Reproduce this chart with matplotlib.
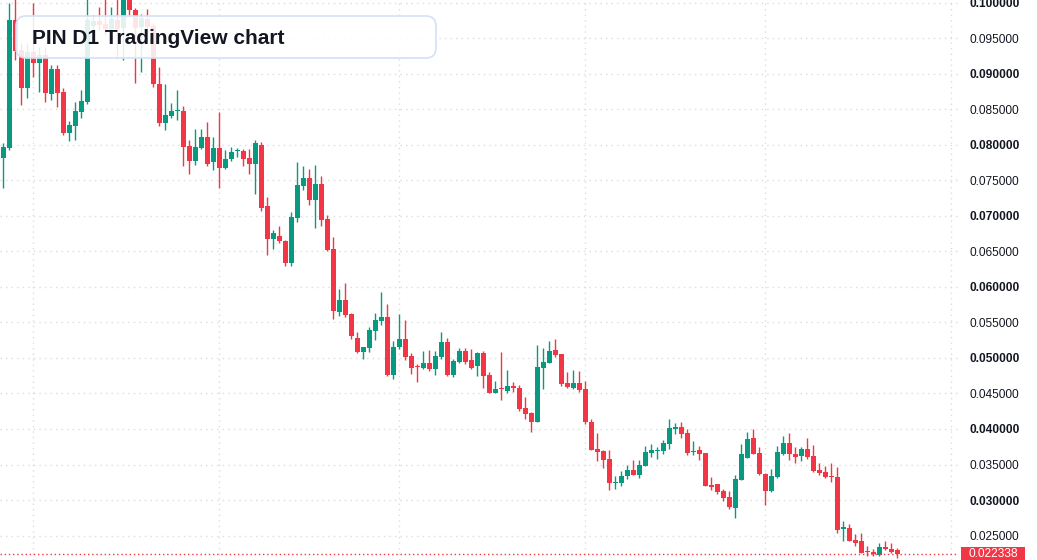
"""PIN D1 candlestick chart, TradingView style."""

import numpy as np
import matplotlib.pyplot as plt
from matplotlib.patches import FancyBboxPatch, Rectangle
from matplotlib.transforms import blended_transform_factory

plt.rcParams["font.family"] = ["Liberation Sans", "DejaVu Sans"]

UP = "#089981"
DOWN = "#F23645"
GRID = "#d9dce2"
TEXT = "#131722"

# ---- daily OHLC ----
opens = [
    0.07812, 0.07962, 0.09760, 0.09338, 0.08807, 0.09314, 0.09150, 0.09267, 0.08714, 0.09070,
    0.08750, 0.08173, 0.08267, 0.08469, 0.08610, 0.09676, 0.09746, 0.09704, 0.09629, 0.09760,
    0.09643, 0.10056, 0.09901, 0.09662, 0.09774, 0.09676, 0.08859, 0.08305, 0.08412, 0.08483,
    0.08479, 0.07986, 0.07779, 0.07957, 0.08112, 0.07760, 0.07957, 0.07680, 0.07802, 0.07911,
    0.07915, 0.07817, 0.07736, 0.08000, 0.07140, 0.06680, 0.06718, 0.06648, 0.06342, 0.06976,
    0.07426, 0.07535, 0.07229, 0.07450, 0.06957, 0.06535, 0.05652, 0.05816, 0.05624, 0.05281,
    0.05088, 0.05145, 0.05384, 0.05525, 0.05577, 0.04764, 0.05159, 0.05267, 0.05028, 0.04877,
    0.04859, 0.04929, 0.04849, 0.05018, 0.05225, 0.04760, 0.04943, 0.05098, 0.04971, 0.04887,
    0.05070, 0.04760, 0.04511, 0.04567, 0.04539, 0.04605, 0.04577, 0.04295, 0.04225, 0.04102,
    0.04859, 0.04929, 0.05112, 0.05056, 0.04647, 0.04577, 0.04647, 0.04563, 0.04098, 0.03718,
    0.03690, 0.03577, 0.03245, 0.03239, 0.03338, 0.03422, 0.03352, 0.03478, 0.03661, 0.03695,
    0.03690, 0.03788, 0.04000, 0.04028, 0.03943, 0.03681, 0.03704, 0.03661, 0.03211, 0.03225,
    0.03126, 0.03042, 0.02887, 0.03281, 0.03591, 0.03873, 0.03661, 0.03366, 0.03126, 0.03323,
    0.03647, 0.03802, 0.03647, 0.03619, 0.03718, 0.03619, 0.03422, 0.03394, 0.03328, 0.03323,
    0.02591, 0.02605, 0.02436, 0.02422, 0.02271, 0.02267, 0.02225, 0.02338, 0.02309, 0.02295,
]
highs = [
    0.08032, 0.09996, 0.10084, 0.09432, 0.09436, 0.09996, 0.09384, 0.09384, 0.09126, 0.09126,
    0.08798, 0.08338, 0.08610, 0.08774, 0.10084, 0.09831, 0.09948, 0.10070, 0.09939, 0.10070,
    0.10127, 0.10098, 0.09929, 0.09845, 0.09915, 0.09718, 0.09103, 0.08859, 0.08587, 0.08774,
    0.08549, 0.08070, 0.08225, 0.08225, 0.08328, 0.08112, 0.08464, 0.07929, 0.07972, 0.07957,
    0.07943, 0.07943, 0.08070, 0.08042, 0.07267, 0.06802, 0.06859, 0.06662, 0.07056, 0.07756,
    0.07704, 0.07662, 0.07718, 0.07563, 0.07014, 0.06704, 0.05971, 0.06056, 0.05638, 0.05366,
    0.05155, 0.05436, 0.05633, 0.05929, 0.05760, 0.05239, 0.05619, 0.05535, 0.05070, 0.04915,
    0.05098, 0.05112, 0.05098, 0.05366, 0.05281, 0.04985, 0.05140, 0.05140, 0.05126, 0.05084,
    0.05098, 0.04802, 0.04676, 0.05084, 0.04831, 0.04662, 0.04619, 0.04450, 0.04243, 0.05183,
    0.05140, 0.05239, 0.05267, 0.05056, 0.04802, 0.04831, 0.04816, 0.04676, 0.04140, 0.03943,
    0.03704, 0.03704, 0.03338, 0.03408, 0.03492, 0.03563, 0.03563, 0.03760, 0.03788, 0.03746,
    0.03845, 0.04140, 0.04084, 0.04098, 0.04000, 0.03831, 0.03760, 0.03661, 0.03323, 0.03225,
    0.03154, 0.03126, 0.03352, 0.03788, 0.03957, 0.04000, 0.03746, 0.03380, 0.03436, 0.03760,
    0.03901, 0.03943, 0.03746, 0.03746, 0.03873, 0.03774, 0.03521, 0.03478, 0.03521, 0.03464,
    0.02704, 0.02661, 0.02521, 0.02535, 0.02352, 0.02309, 0.02394, 0.02422, 0.02394, 0.02323,
]
lows = [
    0.07390, 0.07929, 0.09197, 0.08563, 0.08662, 0.08962, 0.08750, 0.08610, 0.08634, 0.08539,
    0.08141, 0.08060, 0.08070, 0.08376, 0.08577, 0.09549, 0.09619, 0.09549, 0.09549, 0.09221,
    0.09197, 0.09831, 0.08873, 0.09028, 0.09479, 0.08821, 0.08267, 0.08211, 0.08376, 0.08352,
    0.07704, 0.07591, 0.07718, 0.07943, 0.07704, 0.07648, 0.07398, 0.07662, 0.07779, 0.07835,
    0.07708, 0.07595, 0.07314, 0.07074, 0.06455, 0.06539, 0.06624, 0.06300, 0.06300, 0.06919,
    0.07370, 0.07159, 0.06835, 0.06863, 0.06511, 0.05553, 0.05595, 0.05581, 0.05271, 0.05074,
    0.04990, 0.05088, 0.05257, 0.05469, 0.04750, 0.04708, 0.05131, 0.04976, 0.04778, 0.04666,
    0.04849, 0.04821, 0.04764, 0.04990, 0.04753, 0.04736, 0.04929, 0.04915, 0.04845, 0.04746,
    0.04577, 0.04511, 0.04500, 0.04408, 0.04511, 0.04525, 0.04257, 0.04145, 0.03961, 0.04102,
    0.04567, 0.04929, 0.05014, 0.04605, 0.04577, 0.04563, 0.04521, 0.04070, 0.03704, 0.03549,
    0.03450, 0.03140, 0.03154, 0.03197, 0.03295, 0.03352, 0.03314, 0.03478, 0.03605, 0.03577,
    0.03647, 0.03718, 0.03929, 0.03873, 0.03633, 0.03633, 0.03563, 0.03197, 0.03140, 0.03084,
    0.02985, 0.02873, 0.02746, 0.03281, 0.03591, 0.03647, 0.03352, 0.02929, 0.03112, 0.03309,
    0.03633, 0.03563, 0.03521, 0.03549, 0.03577, 0.03394, 0.03352, 0.03309, 0.03253, 0.02535,
    0.02422, 0.02422, 0.02352, 0.02253, 0.02211, 0.02211, 0.02211, 0.02295, 0.02253, 0.02190,
]
closes = [
    0.07976, 0.09760, 0.09328, 0.08807, 0.09314, 0.09150, 0.09267, 0.08728, 0.09070, 0.08736,
    0.08173, 0.08281, 0.08479, 0.08619, 0.09760, 0.09750, 0.09686, 0.09629, 0.09774, 0.09629,
    0.10070, 0.09901, 0.09648, 0.09788, 0.09662, 0.08855, 0.08305, 0.08422, 0.08479, 0.08493,
    0.07976, 0.07779, 0.07972, 0.08112, 0.07732, 0.07957, 0.07680, 0.07802, 0.07901, 0.07919,
    0.07807, 0.07736, 0.08028, 0.07117, 0.06680, 0.06760, 0.06652, 0.06342, 0.06986, 0.07436,
    0.07535, 0.07229, 0.07450, 0.06948, 0.06521, 0.05666, 0.05816, 0.05609, 0.05314, 0.05088,
    0.05155, 0.05394, 0.05535, 0.05577, 0.04760, 0.05155, 0.05267, 0.05018, 0.04863, 0.04869,
    0.04929, 0.04849, 0.05028, 0.05225, 0.04760, 0.04957, 0.05098, 0.04943, 0.04859, 0.05070,
    0.04746, 0.04511, 0.04563, 0.04559, 0.04605, 0.04581, 0.04281, 0.04215, 0.04102, 0.04873,
    0.04943, 0.05098, 0.05042, 0.04633, 0.04591, 0.04647, 0.04549, 0.04098, 0.03704, 0.03676,
    0.03563, 0.03239, 0.03253, 0.03338, 0.03422, 0.03352, 0.03492, 0.03676, 0.03704, 0.03701,
    0.03802, 0.04014, 0.04028, 0.03929, 0.03661, 0.03690, 0.03647, 0.03197, 0.03183, 0.03112,
    0.03028, 0.02901, 0.03295, 0.03647, 0.03859, 0.03647, 0.03366, 0.03126, 0.03338, 0.03676,
    0.03802, 0.03647, 0.03605, 0.03718, 0.03605, 0.03408, 0.03380, 0.03323, 0.03319, 0.02577,
    0.02619, 0.02422, 0.02394, 0.02253, 0.02263, 0.02239, 0.02338, 0.02309, 0.02267, 0.022338,
]

month_starts = [5, 36, 66, 97, 127, 158]   # candle index of the vertical grid lines
price_ticks = np.arange(0.025, 0.1001, 0.005)
last_price = closes[-1]

W, H = 1037, 560
AX_W = 958                      # plot area width in px, price scale to the right
Y_TOP, Y_BOT = 0.10042, 0.02155
PX = (Y_TOP - Y_BOT) / H        # price per pixel


def main():
    o, h, l, c = map(np.asarray, (opens, highs, lows, closes))
    x = np.arange(len(o))
    colors = np.where(c >= o, UP, DOWN)

    fig = plt.figure(figsize=(W / 100, H / 100), dpi=100)
    ax = fig.add_axes([0, 0, AX_W / W, 1])
    ax.set_xlim(-3.4 / 6, (AX_W - 3.4) / 6)
    ax.set_ylim(Y_BOT, Y_TOP)

    # grid
    for v in price_ticks:
        ax.axhline(v, color=GRID, lw=1, ls=(0, (1, 3)), zorder=0)
    for m in month_starts:
        ax.axvline(m, color=GRID, lw=1, ls=(0, (1, 3)), zorder=0)

    # candles
    ax.vlines(x, l, h, colors=colors, lw=1, zorder=2)
    bottom = np.minimum(o, c)
    height = np.maximum(np.abs(c - o), PX)
    ax.bar(x, height, width=0.78, bottom=bottom, color=colors, linewidth=0, zorder=3)

    # last price line + label
    ax.axhline(last_price, color=DOWN, lw=1, ls=(0, (1, 2)), zorder=4)
    tr = blended_transform_factory(ax.transAxes, ax.transData)
    ax.add_patch(Rectangle((1 + 3 / AX_W, last_price - 7.5 * PX), 64 / AX_W, 15 * PX,
                           transform=tr, facecolor=DOWN, edgecolor="none", clip_on=False))
    ax.text(1 + 11 / AX_W, last_price, f"{last_price:.6f}", transform=tr,
            ha="left", va="center", fontsize=8.6, color="white", clip_on=False)

    # price scale
    for s in ax.spines.values():
        s.set_visible(False)
    ax.set_xticks([])
    ax.set_yticks(price_ticks, labels=[f"{v:.6f}" for v in price_ticks])
    ax.tick_params(axis="y", left=False, right=False, labelleft=False, labelright=True,
                   length=0, pad=8, labelsize=8.6, labelcolor=TEXT)
    for v, lab in zip(price_ticks, ax.get_yticklabels()):
        if round(v * 1000) % 10 == 0:
            lab.set_fontweight("bold")

    # title box
    box = FancyBboxPatch((0.16, 5.02), 4.20, 0.42,
                         boxstyle="round,pad=0,rounding_size=0.1",
                         transform=fig.dpi_scale_trans,
                         facecolor=(1, 1, 1, 0.88), edgecolor="#d3e2f7", lw=1.2, zorder=10)
    fig.add_artist(box)
    fig.text(0.32, 5.23, "PIN D1 TradingView chart", transform=fig.dpi_scale_trans,
             ha="left", va="center_baseline", fontsize=15, fontweight="bold",
             color=TEXT, zorder=11)

    fig.savefig("out.png", dpi=100)


if __name__ == "__main__":
    main()
